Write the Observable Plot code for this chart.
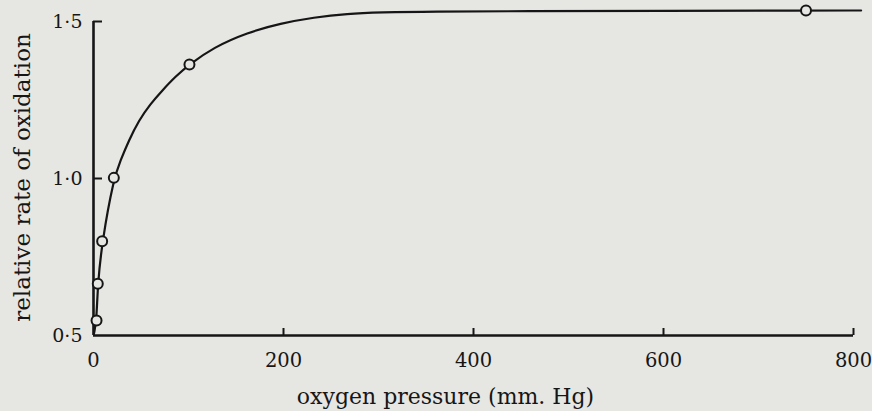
<!DOCTYPE html>
<html>
<head>
<meta charset="utf-8">
<script src="https://cdn.jsdelivr.net/npm/d3@7"></script>
<script src="https://cdn.jsdelivr.net/npm/@observablehq/plot@0.6"></script>
<style>
  html, body { margin: 0; padding: 0; background: #e6e6e3; }
  #chart svg { display: block; }
</style>
</head>
<body>
<div id="chart"></div>
<script>
// Measured points (oxygen pressure, relative rate)
const pointPressure = [3.2, 4.5, 9.1, 21.4, 101, 750];
const pointRate     = [0.548, 0.665, 0.800, 1.002, 1.363, 1.535];

// Fitted curve
const curvePressure = [0.5, 3.2, 4.5, 9.1, 21.4, 28.4, 37.2, 47.7, 60, 72.3, 86.3, 101, 126, 162, 197, 232, 267, 302, 355, 450, 600, 750, 808];
const curveRate     = [0.506, 0.548, 0.665, 0.800, 1.002, 1.057, 1.121, 1.185, 1.238, 1.280, 1.325, 1.363, 1.417, 1.465, 1.494, 1.513, 1.525, 1.529, 1.532, 1.533, 1.534, 1.535, 1.535];

const xTicks = [0, 200, 400, 600, 800];
const yTicks = [0.5, 1.0, 1.5];
const xInnerTicks = [200, 400, 600, 800];
const yInnerTicks = [1.0, 1.5];

const xLabel = "oxygen pressure (mm. Hg)";
const yLabel = "relative rate of oxidation";

const points = pointPressure.map((p, i) => ({p, r: pointRate[i]}));
const curve = curvePressure.map((p, i) => ({p, r: curveRate[i]}));

const W = 872, H = 411;
const mL = 93, mR = 19, mT = 21, mB = 76;
const plotW = W - mL - mR, plotH = H - mT - mB;
const ink = "#161616";
const bg = "#e6e6e3";

const chart = Plot.plot({
  width: W,
  height: H,
  marginLeft: mL,
  marginRight: mR,
  marginTop: mT,
  marginBottom: mB,
  style: {background: bg, fontFamily: "DejaVu Serif", color: ink, overflow: "visible"},
  x: {domain: [0, 800]},
  y: {domain: [0.5, 1.5]},
  marks: [
    Plot.axisX({ticks: xTicks, tickSize: 0, tickPadding: 18, fontSize: 19.5, label: null, tickFormat: d => String(d)}),
    Plot.axisY({ticks: yTicks, tickSize: 0, tickPadding: 11, fontSize: 19, label: null,
                tickFormat: d => d.toFixed(1).replace(".", "\u00B7")}),
    Plot.tickX(xInnerTicks, {stroke: ink, strokeWidth: 2, insetTop: plotH - 7}),
    Plot.tickY(yInnerTicks, {stroke: ink, strokeWidth: 2, insetRight: plotW - 9}),
    Plot.ruleX([0], {stroke: ink, strokeWidth: 2.6}),
    Plot.ruleY([0.5], {stroke: ink, strokeWidth: 2.6, x1: 0, x2: 800}),
    Plot.line(curve, {x: "p", y: "r", stroke: ink, strokeWidth: 2.2, curve: "basis"}),
    Plot.dot(points, {x: "p", y: "r", r: 5, fill: bg, stroke: ink, strokeWidth: 2}),
    Plot.text([xLabel], {frameAnchor: "bottom", dy: 68, dx: -28, fontSize: 22, fill: ink}),
    Plot.text([yLabel], {frameAnchor: "left", textAnchor: "middle", dx: -71, dy: -1, rotate: -90, fontSize: 23, fill: ink})
  ]
});
document.getElementById("chart").appendChild(chart);
</script>
</body>
</html>
